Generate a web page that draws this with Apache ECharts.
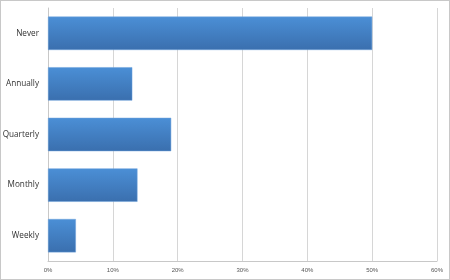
<!DOCTYPE html>
<html><head><meta charset="utf-8">
<style>html,body{margin:0;padding:0;background:#fff;}#c{width:450px;height:280px;box-sizing:border-box;border:1px solid #c8c8c8;}</style>
<script src="https://cdn.jsdelivr.net/npm/echarts@6/dist/echarts.min.js"></script>
</head><body><div id="c"></div>
<script>
const categories = ['Weekly', 'Monthly', 'Quarterly', 'Annually', 'Never'];
const values = [4.3, 13.8, 19.0, 13.0, 50.0];
const xTicks = [0, 10, 20, 30, 40, 50, 60];
const chart = echarts.init(document.getElementById('c'));
chart.setOption({
  animation: false,
  grid: {left: 47, right: 12, top: 7, bottom: 18, outerBoundsMode: 'none', containLabel: false},
  xAxis: {
    type: 'value', min: 0, max: 60, interval: 10,
    axisLine: {show: true, lineStyle: {color: '#c8c8c8'}}, axisTick: {show: false},
    splitLine: {lineStyle: {color: '#d6d6d6', width: 1}},
    axisLabel: {formatter: v => v + '%', fontSize: 6, color: '#555', fontFamily: 'Liberation Sans', margin: 6}
  },
  yAxis: {
    type: 'category', data: categories,
    axisLine: {show: true, lineStyle: {color: '#c8c8c8'}}, axisTick: {show: false},
    axisLabel: {fontSize: 8.2, color: '#333', fontFamily: 'Open Sans', margin: 9}
  },
  series: [{
    type: 'bar', data: values, barCategoryGap: '34%',
    itemStyle: {
      color: new echarts.graphic.LinearGradient(0, 0, 0, 1, [
        {offset: 0, color: '#4b8fd6'}, {offset: 1, color: '#3a6fae'}
      ]),
      borderColor: '#6fa3dc', borderWidth: 0.5
    }
  }]
});
</script></body></html>
